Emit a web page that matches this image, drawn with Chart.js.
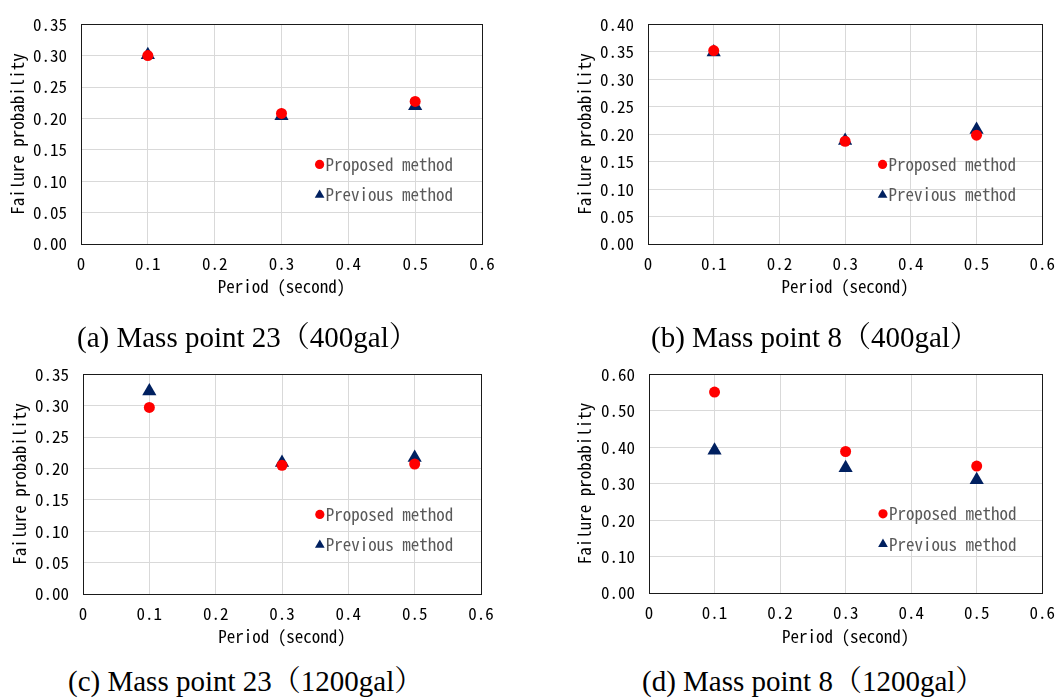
<html>
  <head>
    <script src="https://cdn.jsdelivr.net/npm/chart.js@4.4.1/dist/chart.umd.min.js"></script>
    <style>
      body { margin: 0; background: #fff; width: 1064px; height: 699px; position: relative; overflow: hidden; }
      .panel { position: absolute; }
      .caption {
        position: absolute;
        font-family: "Liberation Serif", "Noto Serif CJK JP", "Noto Sans CJK JP", serif;
        font-size: 29px;
        line-height: 34px;
        color: #000;
        white-space: nowrap;
      }
    </style>
  </head>
  <body>
    <div class="panel" style="left:0px; top:0px"><canvas id="chartA"></canvas></div>
    <div class="panel" style="left:560px; top:0px"><canvas id="chartB"></canvas></div>
    <div class="panel" style="left:0px; top:350px"><canvas id="chartC"></canvas></div>
    <div class="panel" style="left:560px; top:350px"><canvas id="chartD"></canvas></div>

    <div class="caption" style="left:77px; top:320px">(a) Mass point 23（400gal）</div>
    <div class="caption" style="left:651px; top:320px">(b) Mass point 8（400gal）</div>
    <div class="caption" style="left:68px; top:664px">(c) Mass point 23（1200gal）</div>
    <div class="caption" style="left:642px; top:664px">(d) Mass point 8（1200gal）</div>

    <script>
      // period (s)
      const periods = [0.1, 0.3, 0.5];
      const seriesNames = ["Proposed method", "Previous method"];

      // (a) mass point 23, 400gal
      const proposedA = [0.300, 0.208, 0.227];
      const previousA = [0.301, 0.204, 0.220];
      // (b) mass point 8, 400gal
      const proposedB = [0.352, 0.187, 0.198];
      const previousB = [0.349, 0.188, 0.208];
      // (c) mass point 23, 1200gal
      const proposedC = [0.297, 0.205, 0.207];
      const previousC = [0.323, 0.209, 0.217];
      // (d) mass point 8, 1200gal
      const proposedD = [0.551, 0.388, 0.348];
      const previousD = [0.391, 0.343, 0.310];

      const yMaxes = [0.35, 0.40, 0.35, 0.60];
      const ySteps = [0.05, 0.05, 0.05, 0.10];

      // pick a half-width mono font like MS Gothic if one is there
      function pickFont() {
        const ctx = document.createElement("canvas").getContext("2d");
        ctx.font = '40px serif';
        const base = ctx.measureText("mmmmiiii").width;
        ctx.font = '40px "Noto Sans Mono CJK JP", serif';
        const w = ctx.measureText("mmmmiiii").width;
        if (Math.abs(w - base) > 1) return { family: '"Noto Sans Mono CJK JP"', size: 17 };
        return { family: '"DejaVu Sans Mono"', size: 14.2 };
      }
      const mono = pickFont();

      const RED = "#ff0000";
      const NAVY = "#002060";

      function drawMarker(ctx, style, x, y, r, color) {
        ctx.save();
        ctx.fillStyle = color;
        ctx.beginPath();
        if (style === "circle") {
          ctx.arc(x, y, r, 0, Math.PI * 2);
        } else {
          ctx.moveTo(x, y - r);
          ctx.lineTo(x + r * 0.866, y + r * 0.5);
          ctx.lineTo(x - r * 0.866, y + r * 0.5);
          ctx.closePath();
        }
        ctx.fill();
        ctx.restore();
      }

      // frame round the plot area + legend inside it
      const frameAndLegend = {
        id: "frameAndLegend",
        beforeDatasetsDraw(chart) {
          const { ctx, chartArea: ca } = chart;
          ctx.save();
          ctx.strokeStyle = "#1a1a1a";
          ctx.lineWidth = 1;
          ctx.strokeRect(Math.round(ca.left) + 0.5, Math.round(ca.top) + 0.5,
            Math.round(ca.right - ca.left), Math.round(ca.bottom - ca.top));
          ctx.restore();
        },
        afterDraw(chart) {
          const { ctx, chartArea: ca } = chart;
          const w = ca.right - ca.left, h = ca.bottom - ca.top;
          const rows = [0.638, 0.777];
          chart.data.datasets.forEach((ds, i) => {
            const x = ca.left + 0.595 * w;
            const y = ca.top + rows[i] * h;
            drawMarker(ctx, ds.pointStyle, x, y, ds.pointStyle === "circle" ? 4.6 : 5.6, ds.backgroundColor);
            ctx.save();
            ctx.font = mono.size + "px " + mono.family;
            ctx.fillStyle = "#595959";
            ctx.textBaseline = "middle";
            ctx.textAlign = "left";
            ctx.fillText(ds.label, x + 6, y);
            ctx.restore();
          });
        }
      };

      function makeChart(id, proposed, previous, yMax, yStep, box) {
        const canvas = document.getElementById(id);
        canvas.parentNode.style.width = box.w + "px";
        canvas.parentNode.style.height = box.h + "px";
        const font = { family: mono.family, size: mono.size };
        return new Chart(canvas, {
          type: "scatter",
          data: {
            datasets: [
              {
                label: seriesNames[0],
                data: periods.map((p, i) => ({ x: p, y: proposed[i] })),
                pointStyle: "circle",
                pointRadius: 5.5,
                backgroundColor: RED,
                borderColor: RED,
                borderWidth: 0
              },
              {
                label: seriesNames[1],
                data: periods.map((p, i) => ({ x: p, y: previous[i] })),
                pointStyle: "triangle",
                pointRadius: 8.2,
                backgroundColor: NAVY,
                borderColor: NAVY,
                borderWidth: 0
              }
            ]
          },
          options: {
            responsive: true,
            maintainAspectRatio: false,
            animation: false,
            events: [],
            layout: { padding: { left: 0, top: box.top, right: box.w - box.right, bottom: 0 } },
            plugins: { legend: { display: false }, tooltip: { enabled: false } },
            scales: {
              x: {
                type: "linear",
                min: 0,
                max: 0.6,
                ticks: {
                  stepSize: 0.1,
                  padding: 9,
                  color: "#000",
                  font: font,
                  maxRotation: 0,
                  callback: v => (Math.abs(v) < 1e-9 ? "0" : v.toFixed(1))
                },
                grid: { color: "#d9d9d9", drawTicks: false },
                border: { display: false },
                title: {
                  display: true,
                  text: "Period (second)",
                  color: "#000",
                  font: font,
                  padding: { top: 0, bottom: 2.8 }
                },
                afterFit: s => { s.height = box.h - box.bottom; }
              },
              y: {
                min: 0,
                max: yMax,
                ticks: {
                  stepSize: yStep,
                  padding: 14,
                  color: "#000",
                  font: font,
                  callback: v => v.toFixed(2)
                },
                grid: { color: "#d9d9d9", drawTicks: false },
                border: { display: false },
                title: {
                  display: true,
                  text: "Failure probability",
                  color: "#000",
                  font: font,
                  padding: { top: box.titleX - 10.2, bottom: 0 }
                },
                afterFit: s => { s.width = box.left; }
              }
            }
          },
          plugins: [frameAndLegend]
        });
      }

      makeChart("chartA", proposedA, previousA, yMaxes[0], ySteps[0],
        { w: 530, h: 300, left: 81, right: 482, top: 20, bottom: 244, titleX: 18 });
      makeChart("chartB", proposedB, previousB, yMaxes[1], ySteps[1],
        { w: 504, h: 300, left: 88, right: 489, top: 20, bottom: 244, titleX: 25 });
      makeChart("chartC", proposedC, previousC, yMaxes[2], ySteps[2],
        { w: 530, h: 300, left: 83, right: 481, top: 21, bottom: 244, titleX: 20 });
      makeChart("chartD", proposedD, previousD, yMaxes[3], ySteps[3],
        { w: 504, h: 300, left: 89, right: 489, top: 21, bottom: 243, titleX: 25 });
    </script>
  </body>
</html>
